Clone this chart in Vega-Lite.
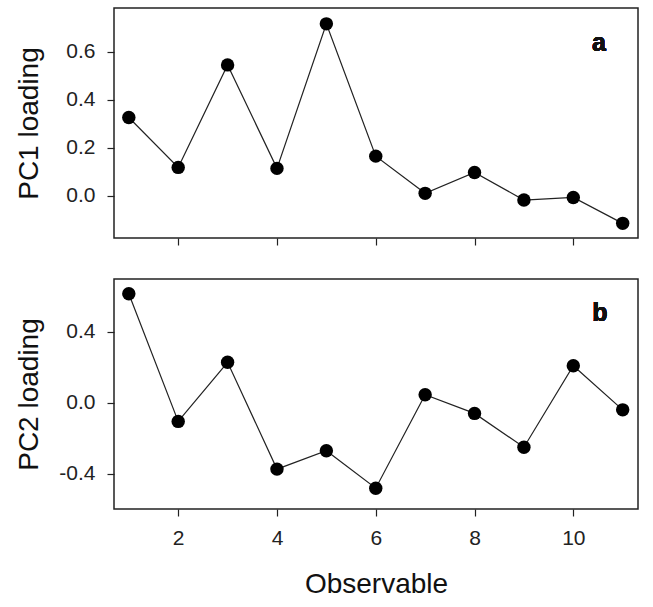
{
  "$schema": "https://vega.github.io/schema/vega-lite/v6.json",
  "description": "PC1 and PC2 loadings per observable.",
  "padding": {"left": 14, "top": 7, "right": 10, "bottom": 5},
  "background": "white",
  "config": {
    "font": "Liberation Sans",
    "view": {"stroke": "#222", "strokeWidth": 1.5},
    "axis": {
      "domain": false,
      "grid": false,
      "tickColor": "#222",
      "tickWidth": 1.2,
      "tickSize": 7,
      "labelFont": "Liberation Sans",
      "labelFontSize": 21,
      "labelColor": "#222",
      "titleFont": "Liberation Sans",
      "titleFontWeight": "normal",
      "titleColor": "#111",
      "titleFontSize": 28
    }
  },
  "data": {
    "values": [
      {"obs": 1, "pc1": 0.326, "pc2": 0.612},
      {"obs": 2, "pc1": 0.118, "pc2": -0.105},
      {"obs": 3, "pc1": 0.545, "pc2": 0.227},
      {"obs": 4, "pc1": 0.114, "pc2": -0.373},
      {"obs": 5, "pc1": 0.716, "pc2": -0.27},
      {"obs": 6, "pc1": 0.165, "pc2": -0.48},
      {"obs": 7, "pc1": 0.01, "pc2": 0.045},
      {"obs": 8, "pc1": 0.097, "pc2": -0.06},
      {"obs": 9, "pc1": -0.018, "pc2": -0.25},
      {"obs": 10, "pc1": -0.007, "pc2": 0.208},
      {"obs": 11, "pc1": -0.115, "pc2": -0.04}
    ]
  },
  "spacing": 31,
  "vconcat": [
    {
      "width": 524,
      "height": 230,
      "encoding": {
        "x": {"field": "obs", "type": "quantitative",
          "scale": {"domain": [0.7, 11.31], "nice": false, "zero": false},
          "axis": {"values": [2, 4, 6, 8, 10], "labels": false, "title": null}},
        "y": {"field": "pc1", "type": "quantitative",
          "scale": {"domain": [-0.176, 0.782], "nice": false, "zero": false},
          "axis": {"values": [0, 0.2, 0.4, 0.6], "format": ".1f", "labelPadding": 12,
            "title": "PC1 loading", "titleX": -71}}
      },
      "layer": [
        {"mark": {"type": "line", "color": "#222", "strokeWidth": 1.2}},
        {"mark": {"type": "point", "filled": true, "color": "#000", "opacity": 1, "size": 180, "shape": "circle"}},
        {
          "mark": {"type": "text", "text": "a", "fontSize": 25, "fontWeight": "bold", "color": "#111", "align": "center", "baseline": "middle"},
          "encoding": {"x": {"datum": 10.52}, "y": {"datum": 0.636}}
        }
      ]
    },
    {
      "width": 524,
      "height": 230,
      "encoding": {
        "x": {"field": "obs", "type": "quantitative",
          "scale": {"domain": [0.7, 11.31], "nice": false, "zero": false},
          "axis": {"values": [2, 4, 6, 8, 10], "labelPadding": 11, "title": "Observable", "titlePadding": 22}},
        "y": {"field": "pc2", "type": "quantitative",
          "scale": {"domain": [-0.597, 0.695], "nice": false, "zero": false},
          "axis": {"values": [-0.4, 0, 0.4], "format": ".1f", "labelPadding": 12,
            "labelExpr": "replace(datum.label, '\u2212', '-')",
            "title": "PC2 loading", "titleX": -71}}
      },
      "layer": [
        {"mark": {"type": "line", "color": "#222", "strokeWidth": 1.2}},
        {"mark": {"type": "point", "filled": true, "color": "#000", "opacity": 1, "size": 180, "shape": "circle"}},
        {
          "mark": {"type": "text", "text": "b", "fontSize": 25, "fontWeight": "bold", "color": "#111", "align": "center", "baseline": "middle"},
          "encoding": {"x": {"datum": 10.54}, "y": {"datum": 0.506}}
        }
      ]
    }
  ]
}
